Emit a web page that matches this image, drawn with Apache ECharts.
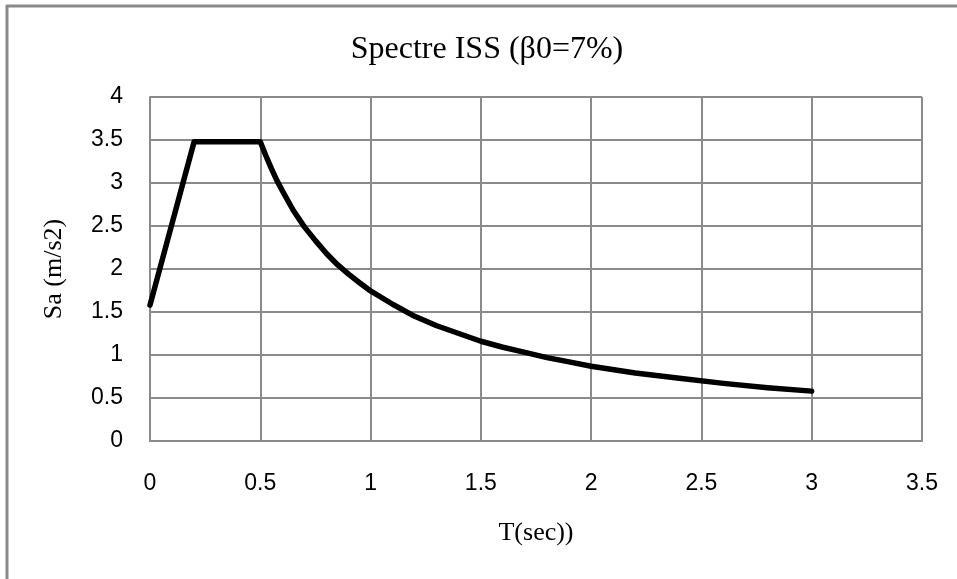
<!DOCTYPE html>
<html>
<head>
<meta charset="utf-8">
<title>Spectre ISS</title>
<script src="https://cdn.jsdelivr.net/npm/echarts@6/dist/echarts.min.js"></script>
<style>
  html, body { margin: 0; padding: 0; background: #ffffff; }
  #chart { width: 957px; height: 579px; }
</style>
</head>
<body>
<div id="chart"></div>
<script>
// Periods T (s) and spectral acceleration Sa (m/s2)
var periods = [0, 0.2, 0.5, 0.525, 0.55, 0.575, 0.6, 0.65, 0.7, 0.75, 0.8, 0.85, 0.9, 0.95, 1.0, 1.1, 1.2, 1.3, 1.4, 1.5,
               1.6, 1.7, 1.8, 1.9, 2.0, 2.2, 2.4, 2.6, 2.8, 3.0];
var accel = [1.58, 3.48, 3.48, 3.32, 3.17, 3.03, 2.91, 2.68, 2.49, 2.33, 2.18, 2.05, 1.94, 1.84, 1.745, 1.59, 1.45, 1.34, 1.25, 1.16,
             1.09, 1.03, 0.97, 0.92, 0.87, 0.79, 0.73, 0.67, 0.62, 0.58];

var titleText = 'Spectre ISS (\u03B20=7%)';
var xName = 'T(sec))';
var yName = 'Sa (m/s2)';

var points = periods.map(function (t, i) { return [t, accel[i]]; });

var gridColor = '#8a8a8a';
var serif = '"Liberation Serif", "DejaVu Serif", serif';
var sans = '"Liberation Sans", Arial, sans-serif';

var chart = echarts.init(document.getElementById('chart'), null, { renderer: 'canvas' });
chart.setOption({
  backgroundColor: '#ffffff',
  animation: false,
  title: {
    text: titleText,
    left: 482,
    textAlign: 'center',
    top: 29,
    textStyle: { fontFamily: serif, fontSize: 32, fontWeight: 'normal', color: '#000000' }
  },
  grid: { left: 150, right: 35, top: 97, bottom: 138, containLabel: false },
  xAxis: {
    type: 'value',
    min: 0, max: 3.5, interval: 0.5,
    name: xName,
    nameLocation: 'middle',
    nameGap: 79,
    nameTextStyle: { fontFamily: serif, fontSize: 26, color: '#000000' },
    axisLine: { show: true, lineStyle: { color: gridColor, width: 2 } },
    axisTick: { show: false },
    axisLabel: { margin: 31, fontFamily: sans, fontSize: 23, color: '#000000' },
    splitLine: { show: true, lineStyle: { color: gridColor, width: 2 } }
  },
  yAxis: {
    type: 'value',
    min: 0, max: 4, interval: 0.5,
    name: yName,
    nameLocation: 'middle',
    nameGap: 83,
    nameRotate: 90,
    nameTextStyle: { fontFamily: serif, fontSize: 26, color: '#000000' },
    axisLine: { show: true, lineStyle: { color: gridColor, width: 2 } },
    axisTick: { show: false },
    axisLabel: { margin: 27, fontFamily: sans, fontSize: 23, color: '#000000' },
    splitLine: { show: true, lineStyle: { color: gridColor, width: 2 } }
  },
  series: [{
    type: 'line',
    data: points,
    showSymbol: false,
    smooth: false,
    lineStyle: { color: '#000000', width: 5.5, join: 'round', cap: 'round' }
  }],
  graphic: [
    { type: 'line', shape: { x1: 6, y1: 6, x2: 957, y2: 6 }, style: { stroke: gridColor, lineWidth: 3 } },
    { type: 'line', shape: { x1: 7, y1: 5, x2: 7, y2: 579 }, style: { stroke: gridColor, lineWidth: 3 } }
  ]
});
</script>
</body>
</html>
